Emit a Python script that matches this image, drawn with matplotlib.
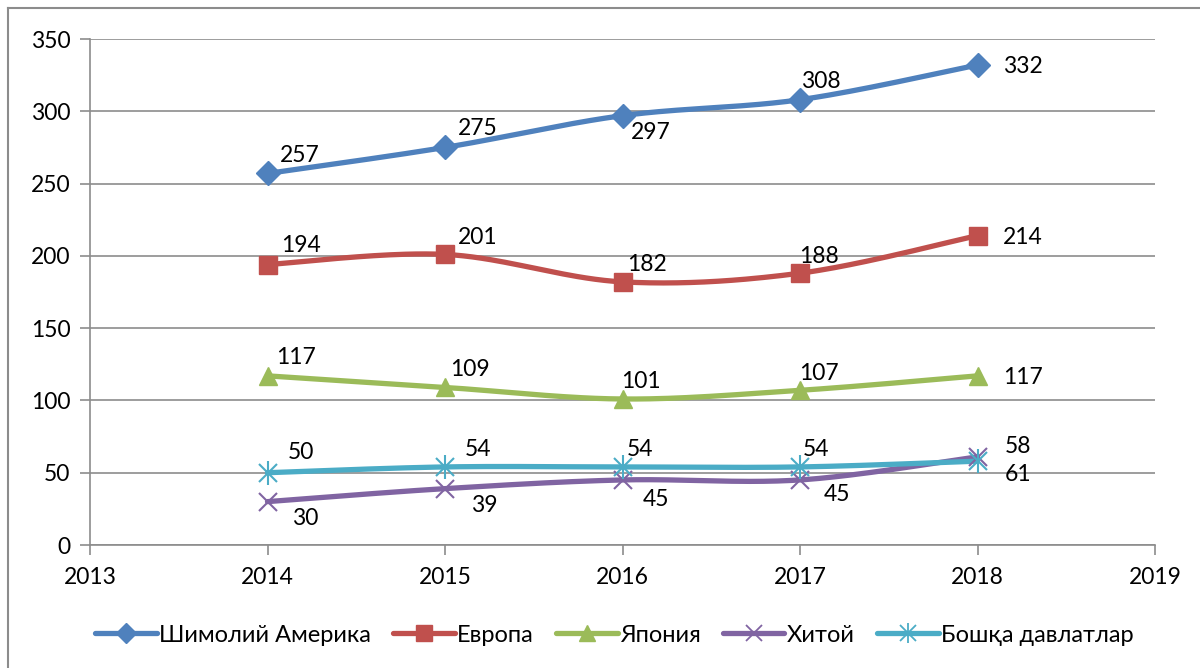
import numpy as np
import matplotlib
matplotlib.use("Agg")
import matplotlib.pyplot as plt
from matplotlib.lines import Line2D
from matplotlib.legend_handler import HandlerTuple

plt.rcParams['font.family'] = ['Lato', 'DejaVu Sans']

years = [2014, 2015, 2016, 2017, 2018]
series_names = ["Шимолий Америка", "Европа", "Япония", "Хитой", "Бошқа давлатлар"]
north_america = [257, 275, 297, 308, 332]
europe = [194, 201, 182, 188, 214]
japan = [117, 109, 101, 107, 117]
china = [30, 39, 45, 45, 61]
others = [50, 54, 54, 54, 58]
x_ticks = [2013, 2014, 2015, 2016, 2017, 2018, 2019]
y_ticks = [0, 50, 100, 150, 200, 250, 300, 350]

colors = ["#4F81BD", "#C0504D", "#9BBB59", "#8064A2", "#4BACC6"]
# label offsets in pixels (dx, dy up)
label_offsets = [
    [(32, 18), (33, 19), (28, -17), (21, 18), (45, -1)],
    [(33, 19), (33, 17), (24, 17), (19, 17), (45, -2)],
    [(28, 18), (25, 18), (18, 17), (19, 17), (45, -2)],
    [(38, -17), (39, -17), (33, -20), (37, -15), (41, -18)],
    [(33, 20), (33, 17), (18, 17), (16, 17), (41, 15)],
]


def smooth(xs, ys, n=40):
    # Excel-like smoothing: cubic Bezier with Catmull-Rom control points
    xs = np.asarray(xs, float)
    ys = np.asarray(ys, float)
    px, py = [], []
    m = len(xs)
    for i in range(m - 1):
        p0 = np.array([xs[max(i - 1, 0)], ys[max(i - 1, 0)]])
        p1 = np.array([xs[i], ys[i]])
        p2 = np.array([xs[i + 1], ys[i + 1]])
        p3 = np.array([xs[min(i + 2, m - 1)], ys[min(i + 2, m - 1)]])
        c1 = p1 + (p2 - p0) / 6.0
        c2 = p2 - (p3 - p1) / 6.0
        t = np.linspace(0, 1, n)[:, None]
        pts = ((1 - t) ** 3) * p1 + 3 * ((1 - t) ** 2) * t * c1 + 3 * (1 - t) * t ** 2 * c2 + t ** 3 * p2
        px.extend(pts[:, 0])
        py.extend(pts[:, 1])
    return px, py


FS = 16.5
fig = plt.figure(figsize=(12, 6.68), dpi=100)
ax = fig.add_axes([90 / 1200, 1 - 545 / 668, (1155 - 90) / 1200, (545 - 39) / 668])

# figure border (left and top visible)
fig.add_artist(Line2D([8 / 1200, 8 / 1200], [0, 1 - 8 / 668], color="#8c8c8c", lw=1.5, transform=fig.transFigure))
fig.add_artist(Line2D([8 / 1200, 1], [1 - 8 / 668, 1 - 8 / 668], color="#8c8c8c", lw=1.5, transform=fig.transFigure))

all_data = [north_america, europe, japan, china, others]
handles = []
LW = 3.8
for k, (name, vals, col) in enumerate(zip(series_names, all_data, colors)):
    sx, sy = smooth(years, vals)
    ax.plot(sx, sy, color=col, lw=LW, solid_capstyle='round', zorder=3)
    if k == 0:
        ax.plot(years, vals, ls='none', marker='D', ms=12, color=col, zorder=4)
        h = Line2D([], [], color=col, lw=LW, marker='D', ms=10, solid_capstyle='round')
    elif k == 1:
        ax.plot(years, vals, ls='none', marker='s', ms=13, color=col, zorder=4)
        h = Line2D([], [], color=col, lw=LW, marker='s', ms=11, solid_capstyle='round')
    elif k == 2:
        ax.plot(years, vals, ls='none', marker='^', ms=13, color=col, zorder=4)
        h = Line2D([], [], color=col, lw=LW, marker='^', ms=11, solid_capstyle='round')
    elif k == 3:
        ax.plot(years, vals, ls='none', marker='x', ms=13, mew=1.5, color=col, zorder=4)
        h = Line2D([], [], color=col, lw=LW, marker='x', ms=11, mew=1.3, solid_capstyle='round')
    else:
        ax.plot(years, vals, ls='none', marker='x', ms=13, mew=1.5, color=col, zorder=5)
        ax.plot(years, vals, ls='none', marker='|', ms=17, mew=1.5, color=col, zorder=5)
        h1 = Line2D([], [], color=col, lw=LW, marker='x', ms=11, mew=1.3, solid_capstyle='round')
        h2 = Line2D([], [], color=col, lw=0, marker='|', ms=14, mew=1.3)
        h = (h1, h2)
    handles.append(h)
    for j, (xv, yv) in enumerate(zip(years, vals)):
        dx, dy = label_offsets[k][j]
        ax.annotate(str(yv), (xv, yv), xytext=(dx, dy), textcoords='offset pixels',
                    ha='center', va='center', fontsize=FS, color='black', zorder=6)

ax.set_xlim(2013, 2019)
ax.set_ylim(0, 350)
ax.set_xticks(x_ticks)
ax.set_yticks(y_ticks)
ax.set_xticklabels([str(v) for v in x_ticks])
ax.set_yticklabels([str(v) for v in y_ticks])
ax.grid(axis='y', color='#8c8c8c', lw=1.2)
ax.set_axisbelow(True)
for s in ['top', 'right']:
    ax.spines[s].set_visible(False)
for s in ['left', 'bottom']:
    ax.spines[s].set_color('#8c8c8c')
    ax.spines[s].set_linewidth(1.2)
ax.tick_params(axis='both', colors='#8c8c8c', length=7, width=1.2, labelsize=FS, labelcolor='black')
ax.tick_params(axis='x', pad=9)
ax.tick_params(axis='y', pad=7)

fig.legend(handles, series_names, loc='center', bbox_to_anchor=(0.512, 1 - 635 / 668), ncol=5,
           frameon=False, fontsize=17, handlelength=2.6, handletextpad=0.1, columnspacing=0.95,
           handler_map={tuple: HandlerTuple(ndivide=1, pad=0)})

fig.savefig("out.png", dpi=100)
